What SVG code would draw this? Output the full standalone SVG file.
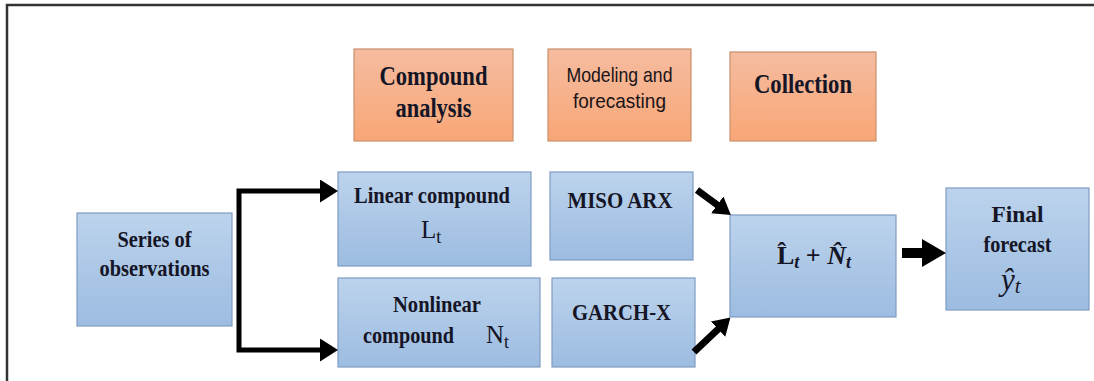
<svg xmlns="http://www.w3.org/2000/svg" width="1094" height="381" viewBox="0 0 1094 381">
  <style>
    .blue { fill: url(#gBlue); stroke: #7f9cc2; stroke-width: 1.2; }
    .orange { fill: url(#gOrange); stroke: #c98f6c; stroke-width: 1.2; }
    .t { font-family: "Liberation Serif", "Times New Roman", serif; font-weight: bold; fill: #151526; text-anchor: middle; }
    .s { font-family: "Liberation Sans", Arial, sans-serif; fill: #1a1418; text-anchor: middle; }
    .m { font-family: "Liberation Serif", "Times New Roman", serif; fill: #151526; }
    .conn { fill: none; stroke: #000; stroke-linejoin: miter; }
  </style>
  <defs>
    <linearGradient id="gBlue" x1="0" y1="0" x2="0" y2="1">
      <stop offset="0" stop-color="#bcd3ec"/>
      <stop offset="1" stop-color="#9cbce1"/>
    </linearGradient>
    <linearGradient id="gOrange" x1="0" y1="0" x2="0" y2="1">
      <stop offset="0" stop-color="#f5bca0"/>
      <stop offset="1" stop-color="#f8a676"/>
    </linearGradient>
    <marker id="ah1" markerUnits="userSpaceOnUse" markerWidth="18" markerHeight="23" refX="1" refY="11.5" orient="auto-start-reverse">
      <path d="M0,0 L18,11.5 L0,23 z" fill="#000"/>
    </marker>
    <marker id="ah2" markerUnits="userSpaceOnUse" markerWidth="17" markerHeight="21" refX="1" refY="10.5" orient="auto">
      <path d="M0,0 L17,10.5 L0,21 z" fill="#000"/>
    </marker>
    <marker id="ah3" markerUnits="userSpaceOnUse" markerWidth="24" markerHeight="28" refX="1" refY="14" orient="auto">
      <path d="M0,0 L24,14 L0,28 z" fill="#000"/>
    </marker>
  </defs>

  <rect width="1094" height="381" fill="#fff"/>
  <!-- frame -->
  <path d="M7,381 L7,5 L1094,5" fill="none" stroke="#333" stroke-width="2.5"/>

  <!-- header nodes -->
  <g id="compound-analysis">
    <rect class="orange" x="354" y="49" width="159" height="92"/>
    <text class="t" font-size="27" x="433.5" y="85" textLength="108" lengthAdjust="spacingAndGlyphs">Compound</text>
    <text class="t" font-size="27" x="433.5" y="117" textLength="76" lengthAdjust="spacingAndGlyphs">analysis</text>
  </g>
  <g id="modeling-forecasting">
    <rect class="orange" x="548" y="49" width="143" height="92"/>
    <text class="s" font-size="21" x="619.5" y="82" textLength="106" lengthAdjust="spacingAndGlyphs">Modeling and</text>
    <text class="s" font-size="21" x="619.5" y="108" textLength="93" lengthAdjust="spacingAndGlyphs">forecasting</text>
  </g>
  <g id="collection">
    <rect class="orange" x="730" y="52" width="146" height="89"/>
    <text class="t" font-size="27" x="803" y="93" textLength="98" lengthAdjust="spacingAndGlyphs">Collection</text>
  </g>

  <!-- flow nodes -->
  <g id="series">
    <rect class="blue" x="77" y="213" width="155" height="113"/>
    <text class="t" font-size="24" x="154.5" y="247" textLength="74" lengthAdjust="spacingAndGlyphs">Series of</text>
    <text class="t" font-size="24" x="154.5" y="276" textLength="110" lengthAdjust="spacingAndGlyphs">observations</text>
  </g>
  <g id="linear">
    <rect class="blue" x="338" y="172" width="193" height="94"/>
    <text class="t" font-size="24" x="432" y="203" textLength="156" lengthAdjust="spacingAndGlyphs">Linear compound</text>
    <text class="m" font-size="25" x="421" y="238">L<tspan font-size="18" dy="5">t</tspan></text>
  </g>
  <g id="miso-arx">
    <rect class="blue" x="550" y="172" width="143" height="88"/>
    <text class="t" font-size="24" x="620" y="208" textLength="105" lengthAdjust="spacingAndGlyphs">MISO ARX</text>
  </g>
  <g id="nonlinear">
    <rect class="blue" x="338" y="278" width="202" height="89"/>
    <text class="t" font-size="24" x="437" y="312" textLength="88" lengthAdjust="spacingAndGlyphs">Nonlinear</text>
    <text class="t" font-size="24" x="408.5" y="343" textLength="91" lengthAdjust="spacingAndGlyphs">compound</text>
    <text class="m" font-size="25" x="486" y="343">N<tspan font-size="18" dy="5">t</tspan></text>
  </g>
  <g id="garch-x">
    <rect class="blue" x="552" y="278" width="143" height="89"/>
    <text class="t" font-size="24" x="621.5" y="320" textLength="99" lengthAdjust="spacingAndGlyphs">GARCH-X</text>
  </g>
  <g id="sum">
    <rect class="blue" x="730" y="215" width="166" height="102"/>
    <text class="m" font-size="26" x="777" y="264"><tspan font-weight="bold">L̂</tspan><tspan font-style="italic" font-weight="bold" font-size="18" dy="4">t</tspan><tspan dy="-4" font-weight="bold"> + </tspan><tspan font-style="italic" font-weight="bold">N̂</tspan><tspan font-style="italic" font-weight="bold" font-size="18" dy="4">t</tspan></text>
  </g>
  <g id="final">
    <rect class="blue" x="946" y="188" width="143" height="122"/>
    <text class="t" font-size="24" x="1017.5" y="222" textLength="52" lengthAdjust="spacingAndGlyphs">Final</text>
    <text class="t" font-size="24" x="1017.5" y="252" textLength="68" lengthAdjust="spacingAndGlyphs">forecast</text>
    <text class="m" font-size="31" font-style="italic" x="1001" y="290">ŷ<tspan font-size="21" dy="3">t</tspan></text>
  </g>

  <!-- connectors -->
  <g id="connectors">
    <path class="conn" stroke-width="5" d="M321,191 L239,191 L239,350 L321,350" marker-start="url(#ah1)" marker-end="url(#ah1)"/>
    <path class="conn" stroke-width="7" d="M697,190 L718,205.5" marker-end="url(#ah2)"/>
    <path class="conn" stroke-width="7" d="M694,352 L718.8,328.5" marker-end="url(#ah2)"/>
    <path class="conn" stroke-width="10" d="M902,253 L923,253" marker-end="url(#ah3)"/>
  </g>
</svg>
